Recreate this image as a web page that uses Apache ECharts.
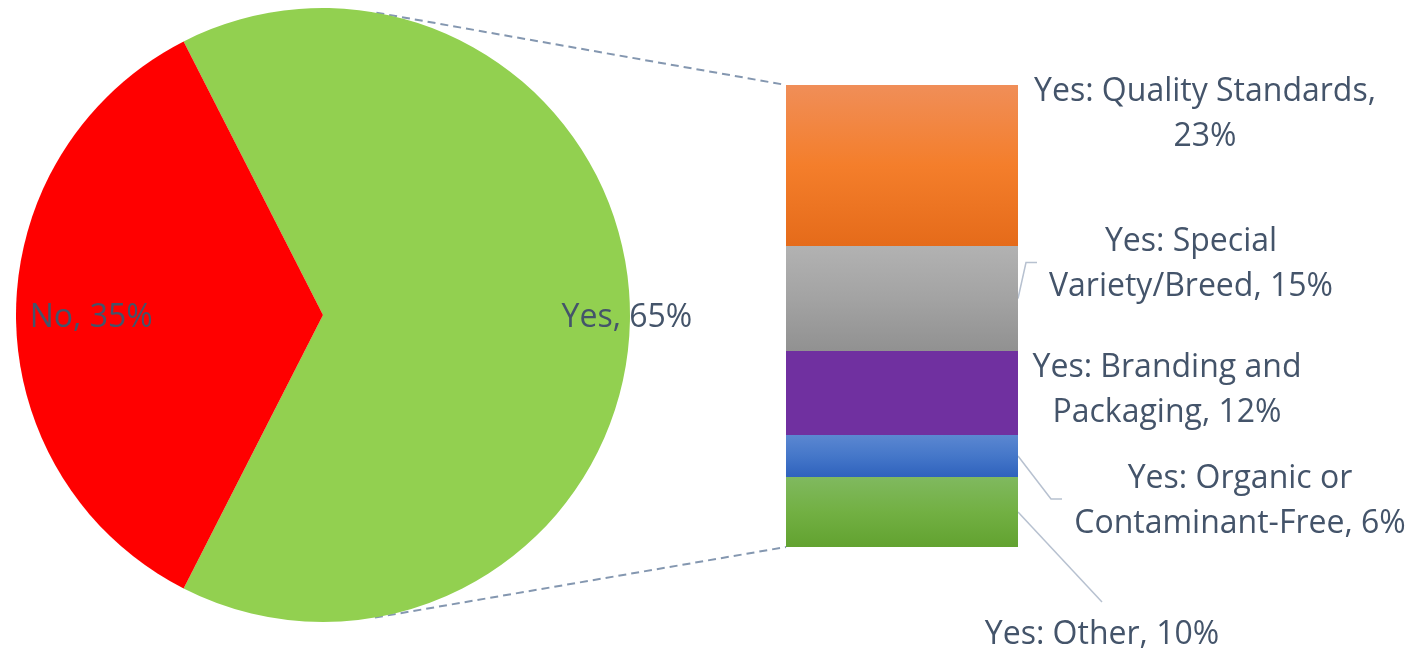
<!DOCTYPE html>
<html>
<head>
<meta charset="utf-8">
<script src="https://cdn.jsdelivr.net/npm/echarts@6/dist/echarts.min.js"></script>
<style>
  html, body { margin: 0; padding: 0; background: #ffffff; }
  #chart { width: 1416px; height: 651px; }
</style>
</head>
<body>
<div id="chart"></div>
<script>
// Pie: Yes / No split
const pieNames = ['Yes', 'No'];
const pieValues = [65, 35];

// Breakdown of "Yes" (stacked bottom to top)
const barNames = [
  'Yes: Other',
  'Yes: Organic or Contaminant-Free',
  'Yes: Branding and Packaging',
  'Yes: Special Variety/Breed',
  'Yes: Quality Standards'
];
const barValues = [10, 6, 12, 15, 23];
// Wrapped label text for each breakdown segment
const barLabelLines = [
  ['Yes: Other, {v}%'],
  ['Yes: Organic or', 'Contaminant-Free, {v}%'],
  ['Yes: Branding and', 'Packaging, {v}%'],
  ['Yes: Special', 'Variety/Breed, {v}%'],
  ['Yes: Quality Standards,', '{v}%']
];

// ---- styling / layout ----
const TEXT = '#44546a';
const FONT = '"Open Sans", "Liberation Sans", sans-serif';
const FONT_SIZE = 32;
const PIE = { cx: 323, cy: 315, r: 307, startAngle: 117 };
const GRID = { left: 786, top: 85, width: 232, height: 462 };
const pieColors = ['#92d050', '#ff0000'];
const pieLabelRadius = [0.99, 0.755];   // label distance from centre, as a share of r
const pieLabelDrop = 3;                 // small downward nudge of pie labels
const barGradients = [
  ['#80b95f', '#72b043', '#62a230'],
  ['#5b87d1', '#4577c9', '#2f62bd'],
  ['#7030a0', '#7030a0', '#7030a0'],
  ['#b2b2b2', '#a3a3a3', '#919191'],
  ['#f08e58', '#f47e2b', '#e56b1a']
];
// label centre relative to the segment's right edge / vertical middle
const barLabelShift = [[84, 123], [222, 45], [149, -3], [173, -34], [187, -51]];
// leader line path (relative to label centre) — null means no leader
//   bend: [dx, dy] of the elbow, end: [dx, dy] of the tip
const barLeader = [
  { end: [0, -33] },
  { bend: [-189, -2], end: [-178, -2] },
  null,
  { bend: [-165, -2], end: [-154, -2] },
  null
];

function grad(c) {
  return new echarts.graphic.LinearGradient(0, 0, 0, 1, [
    { offset: 0, color: c[0] }, { offset: 0.5, color: c[1] }, { offset: 1, color: c[2] }
  ]);
}

const total = pieValues.reduce((a, b) => a + b, 0);
const barTotal = barValues.reduce((a, b) => a + b, 0);

const barSeries = barValues.map((v, i) => ({
  type: 'bar',
  name: barNames[i],
  stack: 'yes',
  barWidth: '100%',
  data: [v],
  itemStyle: { color: grad(barGradients[i]) },
  label: {
    show: true,
    position: 'right',
    formatter: barLabelLines[i].join('\n').replace('{v}', v),
    color: TEXT,
    fontFamily: FONT,
    fontSize: FONT_SIZE,
    lineHeight: 45,
    align: 'center',
    verticalAlign: 'middle'
  },
  labelLayout: function (p) {
    return {
      x: p.rect.x + p.rect.width + barLabelShift[i][0],
      y: p.rect.y + p.rect.height / 2 + barLabelShift[i][1],
      align: 'center',
      verticalAlign: 'middle'
    };
  },
  emphasis: { disabled: true }
}));

const chart = echarts.init(document.getElementById('chart'), null, { renderer: 'canvas' });

// mid angle of each pie slice (degrees, counter-clockwise from 3 o'clock)
const midAngles = [];
(function () {
  let a = PIE.startAngle;
  pieValues.forEach(v => {
    const sweep = v / total * 360;
    midAngles.push(a - sweep / 2);
    a -= sweep;
  });
})();

chart.setOption({
  animation: false,
  backgroundColor: '#ffffff',
  grid: { left: GRID.left, top: GRID.top, width: GRID.width, height: GRID.height, containLabel: false },
  xAxis: { type: 'category', data: ['Yes'], show: false },
  yAxis: { type: 'value', min: 0, max: barTotal, show: false },
  series: [
    {
      type: 'pie',
      center: [PIE.cx, PIE.cy],
      radius: [0, PIE.r],
      startAngle: PIE.startAngle,
      clockwise: true,
      data: pieNames.map((n, i) => ({ name: n, value: pieValues[i], itemStyle: { color: pieColors[i] } })),
      label: {
        show: true,
        position: 'inside',
        formatter: p => p.name + ', ' + Math.round(p.percent) + '%',
        color: TEXT,
        fontFamily: FONT,
        fontSize: FONT_SIZE
      },
      labelLine: { show: false },
      labelLayout: function (p) {
        const rad = midAngles[p.dataIndex] * Math.PI / 180;
        const f = pieLabelRadius[p.dataIndex];
        return {
          x: PIE.cx + f * PIE.r * Math.cos(rad),
          y: PIE.cy - f * PIE.r * Math.sin(rad) + pieLabelDrop,
          align: 'center',
          verticalAlign: 'middle'
        };
      },
      emphasis: { disabled: true }
    }
  ].concat(barSeries)
});

// Dashed connectors: tangents from the bar's left corners to the pie
function tangentPoint(px, py, upper) {
  const dx = px - PIE.cx, dy = py - PIE.cy;
  const d = Math.sqrt(dx * dx + dy * dy);
  const base = Math.atan2(dy, dx);
  const delta = Math.acos(PIE.r / d);
  const a = upper ? base - delta : base + delta;
  return [PIE.cx + PIE.r * Math.cos(a), PIE.cy + PIE.r * Math.sin(a)];
}
const yTop = chart.convertToPixel({ yAxisIndex: 0 }, barTotal);
const yBot = chart.convertToPixel({ yAxisIndex: 0 }, 0);
const xLeft = GRID.left;
const xRight = GRID.left + GRID.width;
const tTop = tangentPoint(xLeft, yTop, true);
const tBot = tangentPoint(xLeft, yBot, false);
const dashStyle = { stroke: '#8497b0', lineWidth: 2, lineDash: [8, 5] };

const graphics = [
  { type: 'line', shape: { x1: tTop[0], y1: tTop[1], x2: xLeft, y2: yTop }, style: dashStyle, silent: true },
  { type: 'line', shape: { x1: tBot[0], y1: tBot[1], x2: xLeft, y2: yBot }, style: dashStyle, silent: true }
];

// Leader lines from the middle of a segment's right edge to its label
let cum = 0;
barValues.forEach((v, i) => {
  const yMid = chart.convertToPixel({ yAxisIndex: 0 }, cum + v / 2);
  cum += v;
  const ld = barLeader[i];
  if (!ld) return;
  const lx = xRight + barLabelShift[i][0];
  const ly = yMid + barLabelShift[i][1];
  const pts = [[xRight, yMid]];
  if (ld.bend) pts.push([lx + ld.bend[0], ly + ld.bend[1]]);
  pts.push([lx + ld.end[0], ly + ld.end[1]]);
  graphics.push({
    type: 'polyline',
    shape: { points: pts },
    style: { stroke: '#b7c1d0', lineWidth: 1.5, fill: null },
    silent: true
  });
});

chart.setOption({ graphic: graphics });
</script>
</body>
</html>
